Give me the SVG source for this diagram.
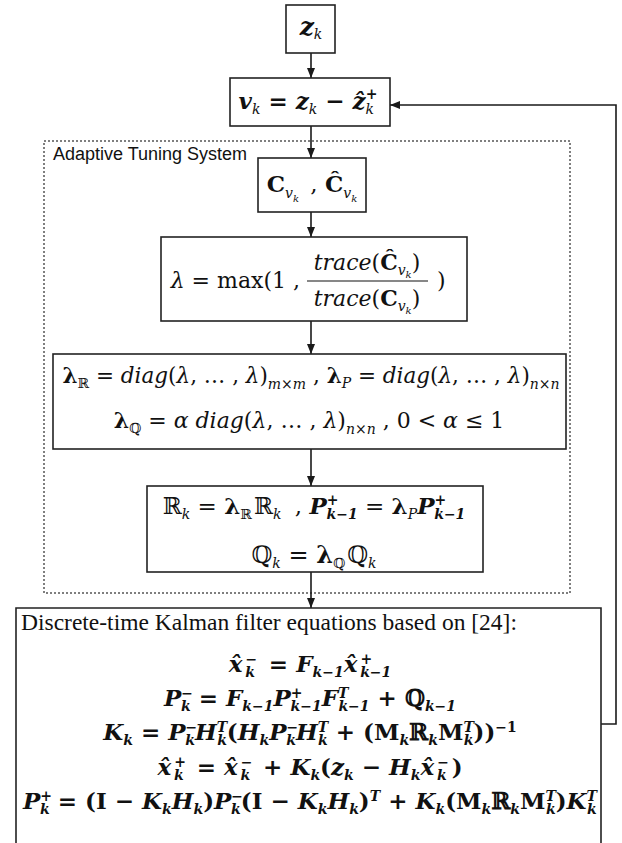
<svg xmlns="http://www.w3.org/2000/svg" width="622" height="843" viewBox="0 0 622 843">
<defs>
<marker id="ah" viewBox="0 0 10 10" refX="10" refY="5" markerWidth="10" markerHeight="10" markerUnits="userSpaceOnUse" orient="auto"><path d="M0,1 L10,5 L0,9 z" fill="#1a1a1a"/></marker>
<style>
.box{fill:#fff;stroke:#222;stroke-width:1.6}
.dash{fill:none;stroke:#555;stroke-width:1.5;stroke-dasharray:2 2}
.conn{fill:none;stroke:#1a1a1a;stroke-width:1.6;marker-end:url(#ah)}
.m{font-family:"DejaVu Serif",serif;font-size:22px;fill:#111}
.B{font-family:"DejaVu Serif",serif;font-size:23px;font-weight:bold;font-style:italic;fill:#111}
.b{font-weight:bold}
.i{font-style:italic}
.n{font-style:normal}
.w{font-weight:normal}
.sc{font-size:14px}
.ss{font-size:10px}
.lbl{font-family:"Liberation Sans",sans-serif;font-size:18px;fill:#111}
.hdr{font-family:"Liberation Serif",serif;font-size:23.5px;fill:#111}
</style>
</defs>
<rect width="622" height="843" fill="#fff"/>
<g id="adaptive-tuning-system">
<rect class="dash" x="44" y="141" width="526" height="452"/>
<text class="lbl" x="53" y="160">Adaptive Tuning System</text>
</g>
<g id="connectors">
<line class="conn" x1="311" y1="53" x2="311" y2="78"/>
<line class="conn" x1="311" y1="126" x2="311" y2="158"/>
<line class="conn" x1="311" y1="212" x2="311" y2="237"/>
<line class="conn" x1="311" y1="321" x2="311" y2="354"/>
<line class="conn" x1="311" y1="449" x2="311" y2="486"/>
<line class="conn" x1="311" y1="572" x2="311" y2="608"/>
<polyline class="conn" points="601,724 616,724 616,105 390,105"/>
</g>
<g id="node-z">
<rect class="box" x="286" y="5" width="49" height="48"/>
<text class="m b i" x="311" y="35" text-anchor="middle" style="font-size:25px">z<tspan class="sc w" dy="4">k</tspan></text>
</g>
<g id="node-innovation">
<rect class="box" x="230" y="78" width="160" height="48"/>
<text class="m b i" x="308" y="109" text-anchor="middle" style="font-size:23px">v<tspan class="sc w" dy="5">k</tspan><tspan class="n" dy="-5"> = </tspan>z<tspan class="sc w" dy="5">k</tspan><tspan class="n" dy="-5"> − </tspan>ẑ<tspan class="sc n" dy="-10">+</tspan><tspan class="sc w" dx="-12" dy="15">k</tspan></text>
</g>
<g id="node-covariance">
<rect class="box" x="258" y="158" width="108" height="54"/>
<text class="m" x="312" y="192" text-anchor="middle" style="font-size:23px"><tspan class="b">C</tspan><tspan class="sc i" dy="6">v</tspan><tspan class="ss i" dy="4">k</tspan><tspan dy="-10" dx="4">  , </tspan><tspan class="b">Ĉ</tspan><tspan class="sc i" dy="6">v</tspan><tspan class="ss i" dy="4">k</tspan></text>
</g>
<g id="node-lambda">
<rect class="box" x="161" y="237" width="306" height="84"/>
<text class="m" x="300" y="288" text-anchor="end"><tspan class="i">λ</tspan> = max(1 ,</text>
<text class="m" x="367" y="270" text-anchor="middle"><tspan class="i">trace</tspan>(<tspan class="b">Ĉ</tspan><tspan class="sc i" dy="5">v</tspan><tspan class="ss i" dy="3">k</tspan><tspan dy="-8">)</tspan></text>
<line x1="307" y1="281" x2="428" y2="281" stroke="#111" stroke-width="1.2"/>
<text class="m" x="367" y="306" text-anchor="middle"><tspan class="i">trace</tspan>(<tspan class="b">C</tspan><tspan class="sc i" dy="5">v</tspan><tspan class="ss i" dy="3">k</tspan><tspan dy="-8">)</tspan></text>
<text class="m" x="437" y="288">)</text>
</g>
<g id="node-lambda-matrices">
<rect class="box" x="53" y="354" width="513" height="95"/>
<text class="m" x="311" y="383" text-anchor="middle" style="font-size:21.5px"><tspan class="b">λ</tspan><tspan class="sc" dy="5">ℝ</tspan><tspan dy="-5"> = </tspan><tspan class="i">diag</tspan>(<tspan class="i">λ</tspan>, … , <tspan class="i">λ</tspan>)<tspan class="sc i" dy="6">m×m</tspan><tspan dy="-6">  , </tspan><tspan class="b">λ</tspan><tspan class="sc i" dy="5">P</tspan><tspan dy="-5"> = </tspan><tspan class="i">diag</tspan>(<tspan class="i">λ</tspan>, … , <tspan class="i">λ</tspan>)<tspan class="sc i" dy="6">n×n</tspan></text>
<text class="m" x="309" y="428" text-anchor="middle"><tspan class="b">λ</tspan><tspan class="sc" dy="5">ℚ</tspan><tspan dy="-5"> = </tspan><tspan class="i">α diag</tspan>(<tspan class="i">λ</tspan>, … , <tspan class="i">λ</tspan>)<tspan class="sc i" dy="6">n×n</tspan><tspan dy="-6">  , 0 &lt; </tspan><tspan class="i">α</tspan> ≤ 1</text>
</g>
<g id="node-scaling">
<rect class="box" x="147" y="486" width="336" height="86"/>
<text class="m" x="314" y="514" text-anchor="middle" style="font-size:23px">ℝ<tspan class="sc i" dy="5">k</tspan><tspan dy="-5"> = </tspan><tspan class="b">λ</tspan><tspan class="sc" dy="5">ℝ</tspan><tspan dy="-5" dx="2">ℝ</tspan><tspan class="sc i" dy="5">k</tspan><tspan dy="-5" dx="6">  , </tspan><tspan class="b i">P</tspan><tspan class="sc b" dy="-9">+</tspan><tspan class="sc b i" dx="-12" dy="14">k−1</tspan><tspan dy="-5"> = </tspan><tspan class="b">λ</tspan><tspan class="sc i" dy="5">P</tspan><tspan class="b i" dy="-5">P</tspan><tspan class="sc b" dy="-9">+</tspan><tspan class="sc b i" dx="-12" dy="14">k−1</tspan></text>
<text class="m" x="314" y="563" text-anchor="middle" style="font-size:24px">ℚ<tspan class="sc i" dy="5">k</tspan><tspan dy="-5"> = </tspan><tspan class="b">λ</tspan><tspan class="sc" dy="5">ℚ</tspan><tspan dy="-5" dx="2">ℚ</tspan><tspan class="sc i" dy="5">k</tspan></text>
</g>
<g id="node-kalman">
<path class="box" d="M16,843 V608 H601 V843"/>
<text class="hdr" x="21" y="630">Discrete-time Kalman filter equations based on [24]:</text>
<text class="B" x="310" y="672" text-anchor="middle">x̂<tspan class="sc n" dx="3" dy="-8">−</tspan><tspan class="sc" dx="-12" dy="13">k</tspan><tspan class="n" dx="6" dy="-5"> = </tspan>F<tspan class="sc" dy="5">k−1</tspan><tspan dy="-5">x̂</tspan><tspan class="sc n" dx="3" dy="-8">+</tspan><tspan class="sc" dx="-12" dy="13">k−1</tspan></text>
<text class="B" x="310" y="706" text-anchor="middle">P<tspan class="sc n" dy="-8">−</tspan><tspan class="sc" dx="-12" dy="13">k</tspan><tspan class="n" dy="-5"> = </tspan>F<tspan class="sc" dy="5">k−1</tspan><tspan dy="-5">P</tspan><tspan class="sc n" dy="-8">+</tspan><tspan class="sc" dx="-12" dy="13">k−1</tspan><tspan dy="-5">F</tspan><tspan class="sc" dy="-8">T</tspan><tspan class="sc" dx="-10" dy="13">k−1</tspan><tspan class="n" dy="-5"> + ℚ</tspan><tspan class="sc" dy="5">k−1</tspan></text>
<text class="B" x="310" y="740" text-anchor="middle">K<tspan class="sc" dy="5">k</tspan><tspan class="n" dy="-5"> = </tspan>P<tspan class="sc n" dy="-8">−</tspan><tspan class="sc" dx="-12" dy="13">k</tspan><tspan dy="-5">H</tspan><tspan class="sc" dy="-8">T</tspan><tspan class="sc" dx="-10" dy="13">k</tspan><tspan class="n" dy="-5">(</tspan>H<tspan class="sc" dy="5">k</tspan><tspan dy="-5">P</tspan><tspan class="sc n" dy="-8">−</tspan><tspan class="sc" dx="-12" dy="13">k</tspan><tspan dy="-5">H</tspan><tspan class="sc" dy="-8">T</tspan><tspan class="sc" dx="-10" dy="13">k</tspan><tspan class="n" dy="-5"> + (M</tspan><tspan class="sc" dy="5">k</tspan><tspan class="n" dy="-5">ℝ</tspan><tspan class="sc" dy="5">k</tspan><tspan class="n" dy="-5">M</tspan><tspan class="sc" dy="-8">T</tspan><tspan class="sc" dx="-10" dy="13">k</tspan><tspan class="n" dy="-5">))</tspan><tspan class="sc n" dy="-8">−1</tspan></text>
<text class="B" x="310" y="775" text-anchor="middle">x̂<tspan class="sc n" dx="3" dy="-8">+</tspan><tspan class="sc" dx="-12" dy="13">k</tspan><tspan class="n" dx="5" dy="-5"> = </tspan>x̂<tspan class="sc n" dx="3" dy="-8">−</tspan><tspan class="sc" dx="-12" dy="13">k</tspan><tspan class="n" dx="5" dy="-5"> + </tspan>K<tspan class="sc" dy="5">k</tspan><tspan class="n" dy="-5">(</tspan>z<tspan class="sc" dy="5">k</tspan><tspan class="n" dy="-5"> − </tspan>H<tspan class="sc" dy="5">k</tspan><tspan dy="-5">x̂</tspan><tspan class="sc n" dx="3" dy="-8">−</tspan><tspan class="sc" dx="-12" dy="13">k</tspan><tspan class="n" dx="5" dy="-5">)</tspan></text>
<text class="B" x="310" y="809" text-anchor="middle">P<tspan class="sc n" dy="-8">+</tspan><tspan class="sc" dx="-12" dy="13">k</tspan><tspan class="n" dy="-5"> = (I − </tspan>K<tspan class="sc" dy="5">k</tspan><tspan dy="-5">H</tspan><tspan class="sc" dy="5">k</tspan><tspan class="n" dy="-5">)</tspan>P<tspan class="sc n" dy="-8">−</tspan><tspan class="sc" dx="-12" dy="13">k</tspan><tspan class="n" dy="-5">(I − </tspan>K<tspan class="sc" dy="5">k</tspan><tspan dy="-5">H</tspan><tspan class="sc" dy="5">k</tspan><tspan class="n" dy="-5">)</tspan><tspan class="sc" dy="-8">T</tspan><tspan class="n" dy="8"> + </tspan>K<tspan class="sc" dy="5">k</tspan><tspan class="n" dy="-5">(M</tspan><tspan class="sc" dy="5">k</tspan><tspan class="n" dy="-5">ℝ</tspan><tspan class="sc" dy="5">k</tspan><tspan class="n" dy="-5">M</tspan><tspan class="sc" dy="-8">T</tspan><tspan class="sc" dx="-10" dy="13">k</tspan><tspan class="n" dy="-5">)</tspan>K<tspan class="sc" dy="-8">T</tspan><tspan class="sc" dx="-10" dy="13">k</tspan></text>
</g>
</svg>
